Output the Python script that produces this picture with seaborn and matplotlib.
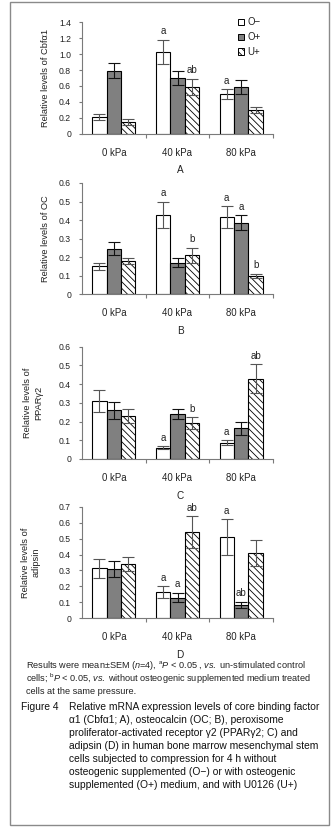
import numpy as np
import pandas as pd
import matplotlib
matplotlib.use('Agg')
import matplotlib.pyplot as plt
import seaborn as sns
from matplotlib.patches import Patch, Rectangle
from matplotlib.ticker import FuncFormatter, MultipleLocator

# ---- data ----
pressures = ['0 kPa', '40 kPa', '80 kPa']
groups = ['O\u2212', 'O+', 'U+']

# rows = groups (O-, O+, U+), columns = pressures
cbfa1_mean = [[0.21, 1.03, 0.50], [0.79, 0.70, 0.59], [0.15, 0.59, 0.30]]
cbfa1_sem = [[0.04, 0.15, 0.06], [0.095, 0.09, 0.09], [0.035, 0.10, 0.04]]
oc_mean = [[0.15, 0.43, 0.415], [0.245, 0.17, 0.385], [0.18, 0.21, 0.10]]
oc_sem = [[0.02, 0.07, 0.06], [0.035, 0.025, 0.04], [0.015, 0.04, 0.012]]
ppar_mean = [[0.31, 0.06, 0.088], [0.26, 0.24, 0.165], [0.23, 0.19, 0.43]]
ppar_sem = [[0.06, 0.009, 0.012], [0.045, 0.027, 0.035], [0.037, 0.032, 0.075]]
adipsin_mean = [[0.315, 0.165, 0.51], [0.31, 0.13, 0.085], [0.34, 0.54, 0.41]]
adipsin_sem = [[0.06, 0.035, 0.11], [0.05, 0.03, 0.02], [0.045, 0.10, 0.08]]

# significance marks: (pressure index, group index, label)
cbfa1_marks = [(1, 0, 'a'), (1, 2, 'ab'), (2, 0, 'a')]
oc_marks = [(1, 0, 'a'), (1, 2, 'b'), (2, 0, 'a'), (2, 1, 'a'), (2, 2, 'b')]
ppar_marks = [(1, 0, 'a'), (1, 2, 'b'), (2, 0, 'a'), (2, 2, 'ab')]
adipsin_marks = [(1, 0, 'a'), (1, 1, 'a'), (1, 2, 'ab'), (2, 0, 'a'), (2, 1, 'ab')]

panel_letters = ['A', 'B', 'C', 'D']
ylabels = ['Relative levels of Cbf\u03b11', 'Relative levels of OC',
           'Relative levels of\nPPAR\u03b32', 'Relative levels of\nadipsin']
ymaxes = [1.4, 0.6, 0.6, 0.7]
ysteps = [0.2, 0.1, 0.1, 0.1]

footnote = [
    r'Results were mean$\pm$SEM ($\it{n}$=4), $^{\rm a}\it{P}$ < 0.05 , $\it{vs.}$ un-stimulated control',
    r'cells; $^{\rm b}\it{P}$ < 0.05, $\it{vs.}$ without osteogenic supplemented medium treated',
    'cells at the same pressure.',
]
caption = [
    'Relative mRNA expression levels of core binding factor',
    '\u03b11 (Cbf\u03b11; A), osteocalcin (OC; B), peroxisome',
    'proliferator-activated receptor \u03b32 (PPAR\u03b32; C) and',
    'adipsin (D) in human bone marrow mesenchymal stem',
    'cells subjected to compression for 4 h without',
    'osteogenic supplemented (O\u2212) or with osteogenic',
    'supplemented (O+) medium, and with U0126 (U+)',
]

# ---- style ----
sns.set_style('ticks')
plt.rcParams['font.family'] = ['Liberation Sans', 'DejaVu Sans']
plt.rcParams['mathtext.fontset'] = 'custom'
plt.rcParams['mathtext.rm'] = 'Liberation Sans'
plt.rcParams['mathtext.it'] = 'Liberation Sans:italic'
plt.rcParams['hatch.linewidth'] = 0.6
plt.rcParams['hatch.color'] = 'black'

W, H = 334, 839
fig = plt.figure(figsize=(W / 100, H / 100), dpi=100)
fig.patch.set_facecolor('white')

bar_colors = ['white', '#808080', 'white']
err_colors = ['#555555', '#111111', '#555555']
spine_col = '#7a7a7a'
hatch = '\\' * 5

# axes boxes in pixels: (top, bottom)
ax_left, ax_right = 82, 273
boxes = [(22.3, 133.7), (183, 294.3), (346.7, 459), (506.7, 618.3)]
ylab_x = [-0.168, -0.168, -0.205, -0.215]

means = [cbfa1_mean, oc_mean, ppar_mean, adipsin_mean]
sems = [cbfa1_sem, oc_sem, ppar_sem, adipsin_sem]
marks = [cbfa1_marks, oc_marks, ppar_marks, adipsin_marks]


def long_df(m):
    rows = []
    for gi, g in enumerate(groups):
        for pi, p in enumerate(pressures):
            rows.append({'pressure': p, 'group': g, 'value': m[gi][pi]})
    return pd.DataFrame(rows)


for k in range(4):
    top, bot = boxes[k]
    ax = fig.add_axes([ax_left / W, 1 - bot / H, (ax_right - ax_left) / W, (bot - top) / H])
    df = long_df(means[k])
    sns.barplot(data=df, x='pressure', y='value', hue='group', order=pressures,
                hue_order=groups, palette=bar_colors, width=0.68, errorbar=None,
                edgecolor='black', linewidth=0.8, legend=False, ax=ax)

    bar_conts = list(ax.containers)
    for gi, cont in enumerate(bar_conts):
        for pi, bar in enumerate(cont.patches):
            bar.set_facecolor(bar_colors[gi])
            bar.set_edgecolor('black')
            if gi == 2:
                bar.set_hatch(hatch)
            cx = bar.get_x() + bar.get_width() / 2
            ax.errorbar(cx, bar.get_height(), yerr=sems[k][gi][pi], fmt='none',
                        ecolor=err_colors[gi], elinewidth=0.8, capsize=4.2,
                        capthick=0.8, zorder=5)

    for pi, gi, lab in marks[k]:
        bar = bar_conts[gi].patches[pi]
        cx = bar.get_x() + bar.get_width() / 2
        ytop = means[k][gi][pi] + sems[k][gi][pi]
        ax.annotate(lab, (cx, ytop), xytext=(0, 2.5), textcoords='offset points',
                    ha='center', va='bottom', fontsize=7, color='#222222')

    ax.set_xlim(-0.5, 2.5)
    ax.set_ylim(0, ymaxes[k])
    ax.yaxis.set_major_locator(MultipleLocator(ysteps[k]))
    ax.yaxis.set_major_formatter(FuncFormatter(lambda v, p: '0' if abs(v) < 1e-9 else f'{v:.1f}'))
    ax.set_xticks([0, 1, 2])
    ax.set_xticklabels(pressures)
    ax.set_xticks([0.5, 1.5, 2.5], minor=True)
    ax.tick_params(axis='x', which='major', length=0, pad=10, labelsize=6.9, colors='#222222')
    ax.tick_params(axis='x', which='minor', length=3, width=0.8, color=spine_col, direction='out')
    ax.tick_params(axis='y', length=2.4, width=0.8, color=spine_col, pad=5.5, labelsize=6.2,
                   labelcolor='#222222')
    for s in ['top', 'right']:
        ax.spines[s].set_visible(False)
    for s in ['left', 'bottom']:
        ax.spines[s].set_color(spine_col)
        ax.spines[s].set_linewidth(0.8)
    ax.set_xlabel('')
    ax.set_ylabel(ylabels[k], fontsize=6.7, color='#222222', linespacing=1.3)
    ax.yaxis.set_label_coords(ylab_x[k], 0.5)
    ax.patch.set_alpha(0)

    fig.text(180 / W, 1 - (bot + 36.5) / H, panel_letters[k], ha='center', va='center',
             fontsize=7.2, color='#222222')

    if k == 0:
        handles = [Patch(facecolor='white', edgecolor='black', linewidth=0.7),
                   Patch(facecolor='#808080', edgecolor='black', linewidth=0.7),
                   Patch(facecolor='white', edgecolor='black', linewidth=0.7, hatch=hatch)]
        leg = ax.legend(handles, groups, loc='upper left', bbox_to_anchor=((238 - ax_left) / (ax_right - ax_left), 1.045),
                        frameon=False, fontsize=6.9, handlelength=0.6, handleheight=0.6,
                        handletextpad=0.4, labelspacing=0.5, borderpad=0, borderaxespad=0)
        for t in leg.get_texts():
            t.set_color('#222222')

# ---- footnote and caption ----
foot_y = [666, 679.3, 691.7]
for y, line in zip(foot_y, footnote):
    fig.text(26 / W, 1 - y / H, line, ha='left', va='center', fontsize=6.55, color='#222222')

cap_y = [706.7, 720.3, 733, 746.3, 759, 771.7, 785]
fig.text(21 / W, 1 - cap_y[0] / H, 'Figure 4', ha='left', va='center', fontsize=7.35, color='#111111')
for y, line in zip(cap_y, caption):
    fig.text(69 / W, 1 - y / H, line, ha='left', va='center', fontsize=7.35, color='#111111')

# outer frame
fig.add_artist(Rectangle((9.5 / W, 1 - 825 / H), (329 - 9.5) / W, (825 - 2) / H,
                         transform=fig.transFigure, fill=False, edgecolor='#8a8a8a', linewidth=1))

fig.savefig('out.png', dpi=100, facecolor='white')
